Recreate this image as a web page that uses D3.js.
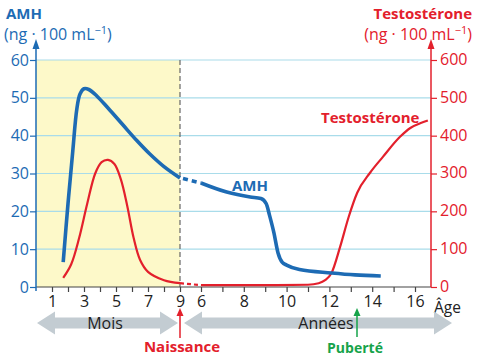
<!DOCTYPE html>
<html><head><meta charset="utf-8">
<script src="https://cdn.jsdelivr.net/npm/d3@7"></script>
<style>body{margin:0;background:#fff}svg{display:block;font-family:"Open Sans","Noto Sans",sans-serif}</style>
</head><body>
<svg id="c" width="482" height="360"></svg>
<script>
// ---- data ----
const monthTicks = [1,2,3,4,5,6,7,8,9];
const monthLabels = [1,3,5,7,9];
const yearTicks = [6,7,8,9,10,11,12,13,14,15,16];
const yearLabels = [6,8,10,12,14,16];
const amhTicks = [0,10,20,30,40,50,60];
const testoTicks = [0,100,200,300,400,500,600];
// AMH (ng/100mL) during months of gestation
const amhMonths = [[1.7,6.6],[2.0,22],[2.3,36],[2.55,47],[2.75,51],[3.0,52.4],[3.3,52.2],[3.8,50.5],[4.5,47.3],[5.4,43],[6.3,38.7],[7.1,35.2],[8,31.8],[9,28.8]];
// AMH during years
const amhYears = [[6,27.5],[7.2,25.1],[8.3,23.8],[8.8,23.4],[9.05,22],[9.2,19],[9.4,14.5],[9.6,9],[9.8,6.5],[10,5.8],[10.6,4.6],[12.1,3.7],[13.2,3.2],[14.4,2.9]];
// Testosterone (ng/100mL) during months
const testoMonths = [[1.7,24],[2.2,60],[2.7,130],[3.2,220],[3.7,300],[4.1,330],[4.5,336],[4.9,325],[5.3,285],[5.7,215],[6.1,130],[6.5,72],[7.0,40],[8,18],[9,10]];
// Testosterone during years
const testoYears = [[6,5],[9,5],[11.0,6],[11.5,10],[11.8,18],[12.1,37],[12.5,106],[12.9,185],[13.3,249],[13.9,302],[14.5,344],[15.3,397],[15.8,421],[16.3,434],[16.6,440]];
// ---- layout ----
const svg = d3.select("#c");
const BLUE="#1d6bb4", RED="#e3202c", GRID="#a9dcea", GREEN="#16a34a";
const xm = d3.scaleLinear().domain([0,9]).range([36,180]);
const xy = d3.scaleLinear().domain([6,16]).range([201,415]);
const yA = d3.scaleLinear().domain([0,60]).range([287,60]);
const yT = d3.scaleLinear().domain([0,600]).range([287,60]);
const xL=36, xR=431;

// yellow band
svg.append("rect").attr("x",xm(0)).attr("y",yA(60)).attr("width",xm(9)-xm(0)).attr("height",yA(0)-yA(60)).attr("fill","#fdf9c9");
// grid
svg.selectAll(".g").data(amhTicks.filter(d=>d>0)).join("line")
  .attr("x1",xL).attr("x2",xR).attr("y1",d=>yA(d)).attr("y2",d=>yA(d)).attr("stroke",GRID).attr("stroke-width",1.2);
// dashed birth line
svg.append("line").attr("x1",xm(9)).attr("x2",xm(9)).attr("y1",yA(60)).attr("y2",yA(0)).attr("stroke","#666").attr("stroke-dasharray","5,3").attr("stroke-width",1.2);

// x axis
svg.append("line").attr("x1",xL).attr("x2",xR).attr("y1",287).attr("y2",287).attr("stroke","#444").attr("stroke-width",1.2);
const axM = d3.axisBottom(xm).tickValues(monthTicks).tickSize(5).tickFormat(d=>monthLabels.includes(d)?d:"");
const axY = d3.axisBottom(xy).tickValues(yearTicks).tickSize(5).tickFormat(d=>yearLabels.includes(d)?d:"");
[axM,axY].forEach(ax=>{
  const g=svg.append("g").attr("transform","translate(0,287)").call(ax);
  g.select(".domain").remove();
  g.selectAll(".tick line").attr("stroke","#444").attr("stroke-width",1.2);
  g.selectAll(".tick text").attr("font-size",16).attr("fill","#222").attr("dy","0.85em").attr("y",6).attr("font-family","Open Sans, sans-serif");
});
svg.append("text").attr("x",434).attr("y",313).attr("font-size",15.5).attr("fill","#222").text("Âge");

// left axis
const gl = svg.append("g").attr("transform",`translate(${xL},0)`).call(d3.axisLeft(yA).tickValues(amhTicks).tickSize(6));
gl.select(".domain").remove();
gl.selectAll(".tick line").attr("stroke",BLUE).attr("stroke-width",1.2);
gl.selectAll(".tick text").attr("fill",BLUE).attr("font-size",16).attr("x",-7).attr("font-family","Open Sans, sans-serif");
svg.append("line").attr("x1",xL).attr("x2",xL).attr("y1",291).attr("y2",46).attr("stroke",BLUE).attr("stroke-width",1.5);
svg.append("path").attr("d",`M${xL-3.5},49 L${xL},39 L${xL+3.5},49 Z`).attr("fill",BLUE);

// right axis
const gr = svg.append("g").attr("transform",`translate(${xR},0)`).call(d3.axisRight(yT).tickValues(testoTicks).tickSize(6));
gr.select(".domain").remove();
gr.selectAll(".tick line").attr("stroke",RED).attr("stroke-width",1.2);
gr.selectAll(".tick text").attr("fill",RED).attr("font-size",16).attr("x",9).attr("dy","0.28em").attr("font-family","Open Sans, sans-serif");
svg.append("line").attr("x1",xR).attr("x2",xR).attr("y1",287).attr("y2",46).attr("stroke",RED).attr("stroke-width",1.5);
svg.append("path").attr("d",`M${xR-3.5},49 L${xR},39 L${xR+3.5},49 Z`).attr("fill",RED);

// titles
svg.append("text").attr("x",6).attr("y",19).attr("fill",BLUE).attr("font-size",15).attr("font-weight","bold").text("AMH");
const t1=svg.append("text").attr("x",4).attr("y",40).attr("fill",BLUE).attr("font-size",16);
t1.append("tspan").text("(ng · 100 mL");
t1.append("tspan").attr("dy",-6).attr("font-size",11).text("−1");
t1.append("tspan").attr("dy",6).text(")");
svg.append("text").attr("x",472).attr("y",19).attr("text-anchor","end").attr("fill",RED).attr("font-size",15).attr("font-weight","bold").text("Testostérone");
const t2=svg.append("text").attr("x",472).attr("y",40).attr("text-anchor","end").attr("fill",RED).attr("font-size",16);
t2.append("tspan").text("(ng · 100 mL");
t2.append("tspan").attr("dy",-6).attr("font-size",11).text("−1");
t2.append("tspan").attr("dy",6).text(")");

// curves
const lineM = (ys)=>d3.line().x(d=>xm(d[0])).y(d=>ys(d[1])).curve(d3.curveCatmullRom.alpha(0.5));
const lineY = (ys)=>d3.line().x(d=>xy(d[0])).y(d=>ys(d[1])).curve(d3.curveMonotoneX);
// testosterone
svg.append("path").datum(testoMonths).attr("d",lineM(yT)).attr("fill","none").attr("stroke",RED).attr("stroke-width",2.2);
svg.append("path").datum(testoYears).attr("d",lineY(yT)).attr("fill","none").attr("stroke",RED).attr("stroke-width",2.2);
svg.append("line").attr("x1",xm(9)).attr("x2",xy(6)).attr("y1",yT(testoMonths[testoMonths.length-1][1])).attr("y2",yT(testoYears[0][1]))
  .attr("stroke",RED).attr("stroke-width",2.2).attr("stroke-dasharray","4,3");
// AMH
svg.append("path").datum(amhMonths).attr("d",lineM(yA)).attr("fill","none").attr("stroke",BLUE).attr("stroke-width",3.6).attr("stroke-linecap","butt");
svg.append("path").datum(amhYears).attr("d",lineY(yA)).attr("fill","none").attr("stroke",BLUE).attr("stroke-width",3.6);
svg.append("line").attr("x1",xm(9)+3).attr("x2",xy(6)).attr("y1",yA(amhMonths[amhMonths.length-1][1])+0.5).attr("y2",yA(amhYears[0][1]))
  .attr("stroke",BLUE).attr("stroke-width",3.6).attr("stroke-dasharray","5,4");

// curve labels
svg.append("text").attr("x",232).attr("y",191).attr("fill",BLUE).attr("font-size",15).attr("font-weight","bold").text("AMH");
svg.append("text").attr("x",321).attr("y",123).attr("fill",RED).attr("font-size",15).attr("font-weight","bold").text("Testostérone");

// bottom arrows
const AG="#c3ccd2";
function dblArrow(x1,x2,y){
  const h=5.5, H=11.5, L=18;
  return `M${x1},${y} L${x1+L},${y-H} L${x1+L},${y-h} L${x2-L},${y-h} L${x2-L},${y-H} L${x2},${y} L${x2-L},${y+H} L${x2-L},${y+h} L${x1+L},${y+h} L${x1+L},${y+H} Z`;
}
svg.append("path").attr("d",dblArrow(37,178,323)).attr("fill",AG);
svg.append("path").attr("d",dblArrow(184,452,323)).attr("fill",AG);
svg.append("text").attr("x",105).attr("y",329).attr("text-anchor","middle").attr("font-size",16).attr("fill","#222").text("Mois");
svg.append("text").attr("x",326).attr("y",329).attr("text-anchor","middle").attr("font-size",16).attr("fill","#222").text("Années");

// markers
svg.append("line").attr("x1",180).attr("x2",180).attr("y1",338).attr("y2",314).attr("stroke",RED).attr("stroke-width",1.5);
svg.append("path").attr("d","M176.5,316 L180,308 L183.5,316 Z").attr("fill",RED);
svg.append("text").attr("x",182).attr("y",352).attr("text-anchor","middle").attr("font-size",15).attr("font-weight","bold").attr("fill",RED).text("Naissance");
svg.append("line").attr("x1",357).attr("x2",357).attr("y1",337).attr("y2",314).attr("stroke",GREEN).attr("stroke-width",1.5);
svg.append("path").attr("d","M353.5,316 L357,308 L360.5,316 Z").attr("fill",GREEN);
svg.append("text").attr("x",355).attr("y",353).attr("text-anchor","middle").attr("font-size",14).attr("font-weight","bold").attr("fill",GREEN).text("Puberté");
</script>
</body></html>
